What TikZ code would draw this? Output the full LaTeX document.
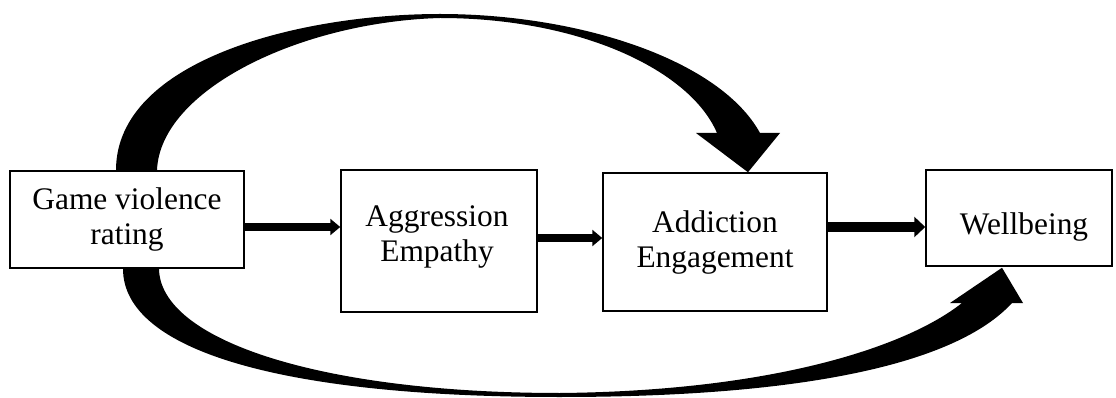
\documentclass[tikz,border=0pt]{standalone}
\usepackage{fontspec}
\setmainfont{Liberation Serif}
\usetikzlibrary{arrows.meta,calc}
\begin{document}
\begin{tikzpicture}[x=1pt,y=-1pt,
  boxnode/.style={draw, line width=1.5pt, inner sep=0pt},
  lbl/.style={inner sep=0pt, align=center, font=\fontsize{31.4}{35}\selectfont},
  arrA/.style={line width=7.5pt, -{Triangle[length=10pt,width=16pt]}},
  arrB/.style={line width=7.5pt, -{Triangle[length=10pt,width=16pt]}},
  arrC/.style={line width=9pt, -{Triangle[length=11pt,width=20pt]}}]
\useasboundingbox (0,0) rectangle (1116,398);
% boxes
\node[boxnode, minimum width=234pt, minimum height=97pt] (b1) at (127,219.5) {};
\node[boxnode, minimum width=196pt, minimum height=142pt] (b2) at (439,241) {};
\node[boxnode, minimum width=224pt, minimum height=138pt] (b3) at (715,242) {};
\node[boxnode, minimum width=186pt, minimum height=96pt] (b4) at (1019,218) {};
% texts
\node[lbl] (t1) at (b1.center) {Game violence\\rating};
\node[lbl] (t2) at ($(b2.center)+(-2,-4)$) {Aggression\\Empathy};
\node[lbl] (t3) at (b3.center) {Addiction\\Engagement};
\node[lbl] (t4) at ($(b4.center)+(5,9)$) {Wellbeing};
% straight arrows
\coordinate (a1) at ($(b1.east)+(0,7.5)$);
\coordinate (a2) at ($(b2.east)+(0,-3)$);
\coordinate (a3) at ($(b3.east)+(0,-15)$);
\draw[arrA] (a1) -- (a1 -| b2.west);
\draw[arrB] (a2) -- (a2 -| b3.west);
\draw[arrC] (a3) -- (a3 -| b4.west);
% top curved arrow
\coordinate (ts1) at ($(b1.north)+(-11,0)$);
\coordinate (ts2) at ($(b1.north)+(30,0)$);
\coordinate (tt) at ($(b3.north)+(33,0)$);
\fill (ts1) .. controls (116,60) and (300,14) .. (440,14)
  .. controls (580,14) and (720,60) .. (760,133)
  -- (780,133) -- (tt) -- (696,133) -- (717,133)
  .. controls (690,70) and (580,18) .. (440,18)
  .. controls (300,22) and (160,90) .. (ts2) -- cycle;
% bottom curved arrow
\coordinate (bs1) at ($(b1.south)+(-4,0)$);
\coordinate (bs2) at ($(b1.south)+(32,0)$);
\coordinate (bt) at ($(b4.south)+(-17,1)$);
\fill (bs1) .. controls (123,350) and (280,397) .. (560,397)
  .. controls (800,397) and (955,365) .. (1012,303)
  -- (1023,303) -- (bt) -- (950,303) -- (962,303)
  .. controls (905,348) and (770,391) .. (560,393)
  .. controls (320,393) and (160,340) .. (bs2) -- cycle;
\end{tikzpicture}
\end{document}
